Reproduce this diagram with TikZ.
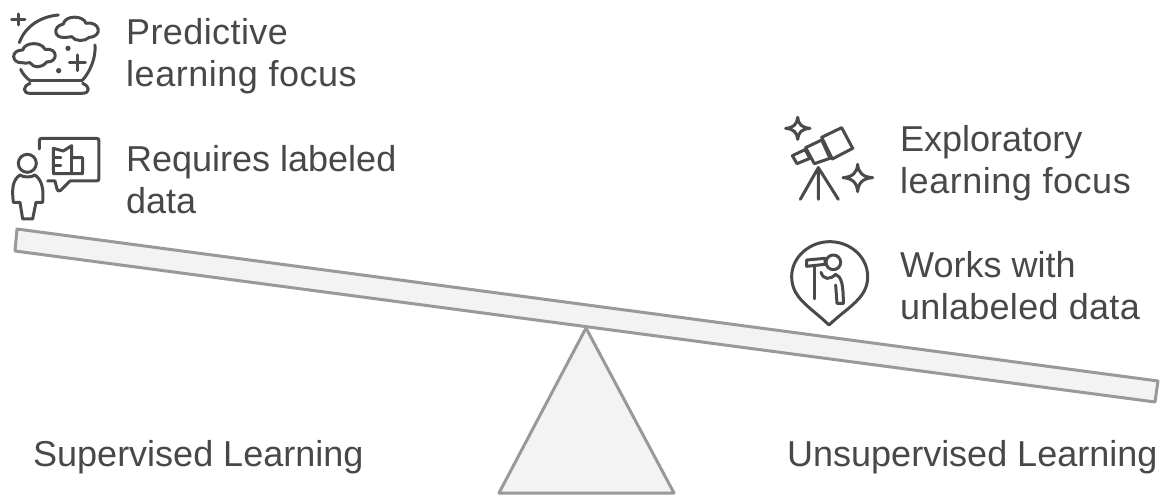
\documentclass[tikz,border=0pt]{standalone}
\usepackage{fontspec}
\setmainfont{Liberation Sans}
\definecolor{txt}{HTML}{484848}
\definecolor{ico}{HTML}{4A4A4A}
\definecolor{edge}{HTML}{999999}
\definecolor{panel}{HTML}{F3F3F3}
\newcommand{\spaced}[2]{{\addfontfeature{LetterSpace=#1}#2}}
\tikzset{
  label/.style={inner sep=0pt,anchor=base west,align=left,text=txt,font=\fontsize{36}{42}\selectfont},
  part/.style={draw=edge,line width=3pt,fill=panel,line join=round},
  icon/.style={draw=ico,line width=3pt,line cap=round,line join=round},
}
\begin{document}
\begin{tikzpicture}[x=1pt,y=-1pt]
\useasboundingbox (0,0) rectangle (1171,495);
% fulcrum and beam
\node[minimum size=0pt,inner sep=0pt] (apex) at (586,328) {};
\coordinate (fl) at (499,493);
\coordinate (fr) at (674,493);
\draw[part] (apex.center) -- (fr) -- (fl) -- cycle;
\coordinate (b1) at (17,229);
\coordinate (b2) at (1158,381);
\coordinate (b3) at (1155,402);
\coordinate (b4) at (15,251);
\draw[part] (b1) -- (b2) -- (b3) -- (b4) -- cycle;
% texts
\node[label] (predict) at (126,87) {\spaced{1.1}{Predictive}\\\spaced{1.5}{learning focus}};
\node[label] (requires) at (126,213) {Requires labeled\\data};
\node[label] (explore) at (900,193) {Exploratory\\\spaced{1.5}{learning focus}};
\node[label] (works) at (900,319) {Works with\\\spaced{0.8}{unlabeled data}};
\node[label] (sup) at (33,466) {Supervised Learning};
\node[label] (unsup) at (787,466) {Unsupervised Learning};
% crystal ball icon
\begin{scope}[shift={(0,0)},x=0.3333pt,y=-0.3333pt]
\draw[icon] (55,42) -- (55,75) (35,58) -- (75,58);
\draw[icon] (58,128) .. controls (75,80) and (120,50) .. (175,45);
\draw[icon] (190,112) .. controls (165,115) and (155,80) .. (190,72) .. controls (195,45) and (250,45) .. (258,70) .. controls (300,62) and (310,110) .. (268,112) .. controls (255,125) and (225,125) .. (215,110) .. controls (208,112) and (198,112) .. (190,112) -- cycle;
\draw[icon] (65,188) .. controls (35,190) and (30,150) .. (68,150) .. controls (75,125) and (125,125) .. (135,148) .. controls (175,142) and (175,188) .. (140,186) .. controls (125,205) and (100,205) .. (90,188) .. controls (82,190) and (72,190) .. (65,188) -- cycle;
\draw[icon] (285,135) .. controls (288,175) and (270,215) .. (248,240);
\draw[icon] (62,208) .. controls (68,222) and (78,232) .. (90,242);
\draw[icon] (90,242) -- (248,242);
\draw[icon] (90,250) .. controls (80,255) and (73,260) .. (73,268) .. controls (73,276) and (80,280) .. (90,280) -- (245,280) .. controls (258,280) and (265,276) .. (265,268) .. controls (265,260) and (258,255) .. (248,250);
\fill[ico] (204,145) circle (8) (176,212) circle (8);
\draw[icon] (232,165) -- (232,212) (208,188) -- (256,188);
\end{scope}
% teacher icon
\begin{scope}[shift={(0,125)},x=0.3333pt,y=-0.3333pt]
\draw[icon] (118,72) -- (118,48) .. controls (118,42) and (120,40) .. (126,40) -- (288,40) .. controls (295,40) and (297,42) .. (297,48) -- (297,160) .. controls (297,166) and (295,168) .. (288,168) -- (210,168) -- (182,196) .. controls (176,200) and (172,198) .. (171,192) -- (165,168) -- (143,168);
\draw[icon] (82,115) circle (27);
\draw[icon] (60,150) .. controls (38,165) and (35,190) .. (40,232) -- (60,232) -- (68,282) -- (98,282) -- (108,232) -- (128,232) .. controls (132,190) and (125,165) .. (105,150) .. controls (95,158) and (70,158) .. (60,150) -- cycle;
\draw[icon] (160,70) -- (160,146) -- (248,146) -- (248,98) -- (215,98) -- (215,62) -- (190,78) -- cycle;
\draw[icon] (215,98) -- (215,146);
\draw[icon] (160,97) -- (183,97) (160,122) -- (183,122);
\end{scope}
% telescope icon
\begin{scope}[shift={(775,105)},x=0.3333pt,y=-0.3333pt]
\draw[icon] (68,37) .. controls (70,58) and (80,68) .. (105,70) .. controls (80,72) and (70,82) .. (68,103) .. controls (66,82) and (56,72) .. (32,70) .. controls (56,68) and (66,58) .. (68,37) -- cycle;
\draw[icon] (248,178) .. controls (250,205) and (265,216) .. (293,218) .. controls (265,220) and (250,232) .. (248,260) .. controls (246,232) and (231,220) .. (204,218) .. controls (231,216) and (246,205) .. (248,178) -- cycle;
\draw[icon] (140,97) -- (200,68) -- (233,130) -- (172,162) -- cycle;
\draw[icon] (92,128) -- (140,105) -- (165,160) -- (118,176) -- cycle;
\draw[icon] (52,152) -- (90,134) -- (105,160) -- (66,176) -- cycle;
\draw[icon] (76,283) -- (130,188) -- (190,283) (130,188) -- (130,283);
\end{scope}
% observer icon
\begin{scope}[shift={(775,235)},x=0.3333pt,y=-0.3333pt]
\draw[icon] (162,270) .. controls (105,215) and (50,190) .. (50,125) .. controls (50,65) and (105,20) .. (164,20) .. controls (225,20) and (278,65) .. (278,125) .. controls (278,190) and (220,215) .. (162,270) -- cycle;
\draw[icon] (175,82) circle (22);
\draw[icon] (95,75) -- (150,70) -- (150,88) -- (95,94) -- cycle;
\draw[icon] (118,94) -- (118,192);
\draw[icon] (138,112) .. controls (145,135) and (165,135) .. (182,118) .. controls (200,125) and (205,150) .. (205,205) -- (186,205) -- (182,150);
\end{scope}
\end{tikzpicture}
\end{document}
